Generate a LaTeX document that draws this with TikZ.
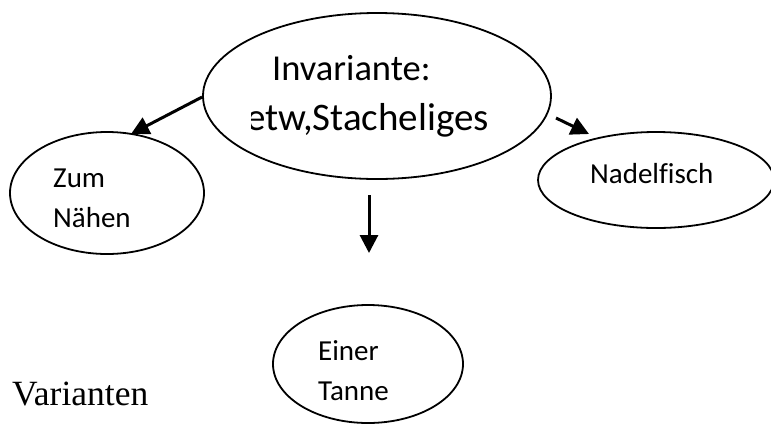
\documentclass[tikz,border=0pt]{standalone}
\usepackage{fontspec}
\setmainfont[Ligatures=NoCommon]{Carlito}
\newfontfamily\serifface{Liberation Serif}
\usetikzlibrary{shapes.geometric,arrows.meta}
\begin{document}
\begin{tikzpicture}[x=1pt,y=-1pt,
  bubble/.style={draw,line width=1.8pt,ellipse,inner sep=0pt},
  link/.style={line width=3pt,-{Triangle[length=18pt,width=18pt]}},
  bigtxt/.style={anchor=base west,inner sep=0pt,font=\fontsize{36.5}{36.5}\selectfont},
  widetxt/.style={anchor=base west,inner sep=0pt,font=\fontsize{39}{39}\selectfont},
  smalltxt/.style={anchor=base west,inner sep=0pt,font=\fontsize{29}{29}\selectfont}]
\useasboundingbox (0,0) rectangle (771,424);

% central ellipse with the invariant
\node[bubble,minimum width=348pt,minimum height=166pt] (main) at (377,96) {};
\node[bigtxt] (inv1) at (272,80) {Invariante:};
\begin{scope}
  \clip (251,0) rectangle (771,424);
  \node[widetxt] (inv2) at (246,130) {etw,Stacheliges};
\end{scope}

% the three variants
\node[bubble,minimum width=194pt,minimum height=122pt] (zum) at (107,193) {};
\node[smalltxt] (zum1) at (53,187) {Zum};
\node[smalltxt] (zum2) at (53,227) {Nähen};

\node[bubble,minimum width=236pt,minimum height=96pt] (fisch) at (656,180) {};
\node[smalltxt] (fisch1) at (590,183) {Nadelfisch};

\node[bubble,minimum width=190pt,minimum height=118pt] (tanne) at (368,364) {};
\node[smalltxt] (tanne1) at (318,360) {Einer};
\node[smalltxt] (tanne2) at (318,400) {Tanne};

\node[anchor=base west,inner sep=0pt,font=\serifface\fontsize{35.5}{35.5}\selectfont] (var) at (12,405) {Varianten};

% arrows from the invariant to the variants
\coordinate (zumend) at (131,134);
\coordinate (fischstart) at (556,118);
\coordinate (fischend) at (589,134);
\coordinate (downstart) at (369,195);
\coordinate (downend) at (369,253);
\draw[link] (main.west) ++(0,1) coordinate (zumstart) -- (zumend);
\draw[link] (fischstart) -- (fischend);
\draw[link] (downstart) -- (downend);
\end{tikzpicture}
\end{document}
